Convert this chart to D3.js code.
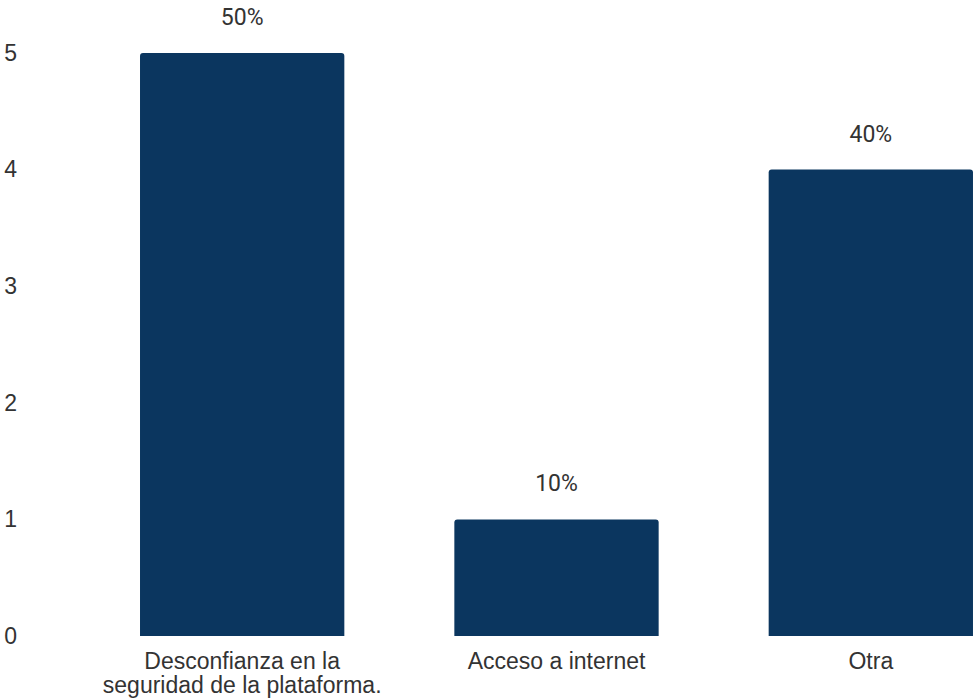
<!DOCTYPE html>
<html>
<head>
<meta charset="utf-8">
<script src="https://cdn.jsdelivr.net/npm/d3@7/dist/d3.min.js"></script>
<style>
  html, body { margin: 0; padding: 0; background: #fff; }
  svg { display: block; }
</style>
</head>
<body>
<svg id="chart" width="980" height="698"></svg>
<script>
// Reasons given (count of responses) and their share of the total
const categories = [
  ["Desconfianza en la", "seguridad de la plataforma."],
  ["Acceso a internet"],
  ["Otra"]
];
const counts = [5, 1, 4];
const shares = ["50%", "10%", "40%"];
const yTicks = [0, 1, 2, 3, 4, 5];

const svg = d3.select("#chart");
const barColor = "#0b365f";
const textColor = "#333333";
const fontSize = 23;

const x = d3.scaleBand()
  .domain(d3.range(counts.length))
  .range([30, 1083])
  .paddingInner(0.35)
  .paddingOuter(0.35);

const y = d3.scaleLinear()
  .domain([0, 5])
  .range([636, 53]);

// Y axis labels (no axis line)
const yAxis = d3.axisLeft(y).tickValues(yTicks).tickFormat(d3.format("d")).tickSize(0).tickPadding(0);
const gy = svg.append("g").attr("transform", "translate(17,0)").call(yAxis);
gy.select(".domain").remove();
gy.selectAll("text")
  .attr("font-family", "Liberation Sans, Arial, sans-serif")
  .attr("font-size", fontSize)
  .attr("fill", textColor);

// Bars with slightly rounded top corners
const r = 3;
svg.append("g").selectAll("path")
  .data(counts)
  .join("path")
  .attr("fill", barColor)
  .attr("d", (d, i) => {
    const x0 = x(i), x1 = x(i) + x.bandwidth();
    const y0 = y(0), y1 = y(d);
    return `M${x0},${y0}V${y1 + r}Q${x0},${y1} ${x0 + r},${y1}H${x1 - r}Q${x1},${y1} ${x1},${y1 + r}V${y0}Z`;
  });

// Percentage labels above bars
svg.append("g").selectAll("text")
  .data(counts)
  .join("text")
  .attr("x", (d, i) => x(i) + x.bandwidth() / 2)
  .attr("y", d => y(d) - 28)
  .attr("text-anchor", "middle")
  .attr("font-family", "Roboto, sans-serif")
  .attr("font-size", fontSize)
  .attr("fill", textColor)
  .text((d, i) => shares[i]);

// Category labels under bars
const cat = svg.append("g").selectAll("text")
  .data(categories)
  .join("text")
  .attr("x", (d, i) => x(i) + x.bandwidth() / 2)
  .attr("y", 669)
  .attr("text-anchor", "middle")
  .attr("font-family", "Liberation Sans, Arial, sans-serif")
  .attr("font-size", fontSize)
  .attr("fill", textColor);
cat.selectAll("tspan")
  .data(d => d)
  .join("tspan")
  .attr("x", function () { return d3.select(this.parentNode).attr("x"); })
  .attr("dy", (d, j) => j === 0 ? 0 : 24)
  .text(d => d);
</script>
</body>
</html>
